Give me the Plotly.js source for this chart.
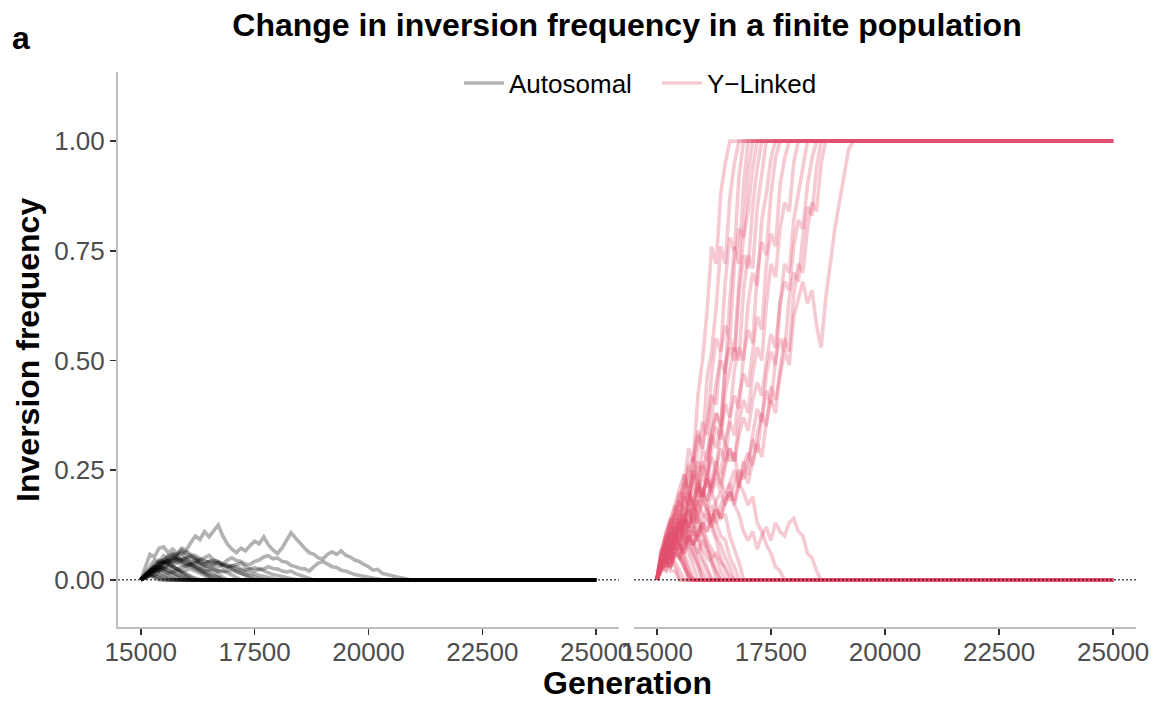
<!DOCTYPE html>
<html>
<head>
<meta charset="utf-8">
<script src="https://cdn.plot.ly/plotly-3.0.1.min.js"></script>
<style>
  html, body { margin: 0; padding: 0; background: #ffffff; }
  #chart { width: 1161px; height: 701px; }
</style>
</head>
<body>
<div id="chart"></div>
<script>
// Simulated inversion frequency, one value per 100 generations from generation 15000.
// Each run stops once the inversion is lost (0) or fixed (1); the absorbed value holds to generation 25000.
const startGen = 15000;
const endGen = 25000;
const genStep = 100;

const xTickVals = [15000, 17500, 20000, 22500, 25000];
const yTickVals = [0, 0.25, 0.5, 0.75, 1];
const yTickText = ["0.00", "0.25", "0.50", "0.75", "1.00"];

// ---- Autosomal runs ----
const autoRun01 = [0,0.03,0.058,0.052,0.072,0.075,0.062,0.07,0.06,0.072,0.068,0.085,0.1,0.092,0.11,0.098,0.112,
  0.125,0.1,0.082,0.07,0.062,0.072,0.066,0.078,0.088,0.082,0.098,0.08,0.068,0.06,0.072,0.09,0.107,0.095,0.082,
  0.072,0.062,0.058,0.05,0.048,0.058,0.064,0.058,0.066,0.056,0.052,0.045,0.042,0.035,0.03,0.022,0.024,0.015,0.012,
  0.01,0.007,0.005,0.003,0];
const autoRun02 = [0,0.015,0.03,0.045,0.04,0.055,0.048,0.056,0.05,0.045,0.048,0.04,0.038,0.046,0.05,0.056,0.045,
  0.042,0.036,0.045,0.05,0.044,0.042,0.036,0.035,0.042,0.045,0.052,0.055,0.048,0.05,0.042,0.04,0.033,0.03,0.026,0.025,
  0.02,0.03,0.038,0.042,0.035,0.03,0.028,0.022,0.02,0.015,0.012,0.01,0.008,0.006,0.004,0.002,0];
const autoRun03 = [0,0.01,0.02,0.018,0.03,0.04,0.036,0.05,0.058,0.062,0.052,0.05,0.045,0.038,0.035,0.042,0.04,0.038,
  0.03,0.028,0.032,0.035,0.038,0.03,0.025,0.02,0.024,0.025,0.03,0.026,0.025,0.02,0.018,0.02,0.014,0.01,0.006,0.003,0];
const autoRun04 = [0,0.008,0.015,0.022,0.02,0.038,0.045,0.042,0.055,0.06,0.065,0.058,0.055,0.048,0.045,0.04,0.035,0.03,
  0.034,0.035,0.028,0.025,0.02,0.018,0.015,0.012,0.01,0.008,0.005,0.003,0];
const autoRun05 = [0,0.01,0.02,0.03,0.028,0.04,0.045,0.05,0.046,0.042,0.038,0.03,0.026,0.02,0.015,0.012,0.008,0.005,0];
const autoRun06 = [0,0.012,0.025,0.035,0.045,0.042,0.055,0.06,0.058,0.068,0.06,0.055,0.048,0.04,0.035,0.03,0.035,0.04,
  0.035,0.03,0.025,0.02,0.015,0.01,0.005,0];
const autoRun07 = [0,0.01,0.018,0.025,0.03,0.028,0.022,0.018,0.012,0.008,0.004,0];
const autoRun08 = [0,0.008,0.012,0.01,0.006,0.003,0];
const autoRun09 = [0,0.01,0.02,0.028,0.035,0.042,0.038,0.032,0.025,0.02,0.022,0.025,0.02,0.015,0.01,0.005,0];
const autoRun10 = [0,0.005,0.01,0.015,0.012,0.008,0.004,0];
const autoRun11 = [0,0.012,0.022,0.03,0.038,0.045,0.052,0.058,0.05,0.045,0.05,0.055,0.05,0.045,0.04,0.042,0.045,0.04,
  0.035,0.03,0.032,0.03,0.025,0.022,0.025,0.028,0.025,0.02,0.015,0.012,0.01,0.008,0.006,0.004,0];
const autoRun12 = [0,0.006,0.012,0.018,0.022,0.02,0.015,0.01,0.005,0];
const autoRun13 = [0,0.01,0.02,0.03,0.04,0.045,0.04,0.035,0.04,0.045,0.04,0.035,0.03,0.025,0.02,0.015,0.01,0.005,0];
const autoRun14 = [0,0.008,0.015,0.02,0.025,0.03,0.035,0.03,0.025,0.028,0.032,0.035,0.03,0.025,0.02,0.022,0.025,0.02,
  0.018,0.02,0.022,0.018,0.015,0.012,0.01,0.008,0.005,0];
const autoRun15 = [0,0.004,0.008,0.005,0];
const autoRun16 = [0,0.01,0.015,0.02,0.025,0.02,0.015,0.018,0.022,0.018,0.012,0.008,0.004,0];
const autoRun17 = [0,0.006,0.014,0.02,0.028,0.024,0.03,0.026,0.02,0.014,0.008,0];
const autoRun18 = [0,0.01,0.02,0.032,0.04,0.036,0.044,0.05,0.046,0.04,0.034,0.036,0.03,0.022,0.015,0.008,0];
const autoRun19 = [0,0.005,0.012,0.01,0.016,0.012,0.008,0.004,0];
const autoRun20 = [0,0.012,0.02,0.026,0.034,0.04,0.038,0.045,0.04,0.034,0.03,0.034,0.038,0.032,0.028,0.022,0.018,
  0.012,0.006,0];
const autoRun21 = [0,0.008,0.016,0.024,0.02,0.028,0.034,0.03,0.024,0.018,0.012,0.006,0];
const autoRun22 = [0,0.006,0.01,0.008,0.004,0];
const autoRun23 = [0,0.01,0.018,0.026,0.032,0.038,0.044,0.04,0.048,0.052,0.046,0.04,0.044,0.038,0.03,0.032,0.026,
  0.02,0.022,0.016,0.01,0.005,0];
const autoRun24 = [0,0.007,0.015,0.022,0.03,0.026,0.02,0.016,0.01,0.005,0];

// ---- Y-linked runs that reach fixation ----
const yFix01 = [0,0.06,0.04,0.11,0.08,0.17,0.22,0.3,0.27,0.42,0.5,0.61,0.76,0.72,0.88,0.95,1];
const yFix02 = [0,0.05,0.03,0.09,0.07,0.14,0.2,0.17,0.27,0.33,0.3,0.46,0.52,0.62,0.76,0.72,0.87,0.95,1];
const yFix03 = [0,0.03,0.07,0.05,0.12,0.1,0.19,0.26,0.22,0.3,0.36,0.33,0.47,0.55,0.52,0.68,0.78,0.75,0.92,1];
const yFix04 = [0,0.04,0.08,0.06,0.1,0.14,0.12,0.2,0.25,0.22,0.3,0.27,0.37,0.45,0.5,0.47,0.64,0.76,0.72,0.9,1];
const yFix05 = [0,0.07,0.05,0.13,0.17,0.14,0.24,0.21,0.28,0.34,0.3,0.36,0.42,0.4,0.52,0.58,0.55,0.72,0.8,0.78,0.93,1];
const yFix06 = [0,0.03,0.06,0.04,0.1,0.14,0.11,0.17,0.22,0.19,0.26,0.23,0.33,0.38,0.35,0.49,0.55,0.52,0.68,0.78,0.84,
  0.94,1];
const yFix07 = [0,0.04,0.02,0.07,0.1,0.08,0.14,0.18,0.15,0.24,0.27,0.24,0.33,0.38,0.35,0.48,0.53,0.5,0.65,0.74,0.71,
  0.85,0.94,1];
const yFix08 = [0,0.03,0.05,0.04,0.09,0.07,0.12,0.16,0.13,0.2,0.24,0.21,0.3,0.35,0.32,0.43,0.48,0.53,0.5,0.66,0.74,
  0.71,0.85,0.93,1];
const yFix09 = [0,0.05,0.03,0.09,0.07,0.13,0.15,0.12,0.18,0.22,0.19,0.24,0.28,0.25,0.34,0.4,0.37,0.48,0.53,0.5,0.63,
  0.7,0.67,0.82,0.88,0.96,1];
const yFix10 = [0,0.03,0.05,0.03,0.07,0.1,0.08,0.12,0.15,0.13,0.19,0.23,0.2,0.26,0.3,0.27,0.37,0.42,0.39,0.51,0.57,
  0.54,0.7,0.77,0.74,0.88,0.96,1];
const yFix11 = [0,0.04,0.06,0.05,0.1,0.08,0.13,0.16,0.13,0.18,0.21,0.18,0.23,0.27,0.24,0.32,0.36,0.33,0.42,0.47,0.44,
  0.52,0.6,0.57,0.72,0.79,0.76,0.9,0.96,1];
const yFix12 = [0,0.03,0.02,0.06,0.08,0.06,0.1,0.12,0.1,0.15,0.18,0.16,0.2,0.23,0.2,0.26,0.3,0.27,0.36,0.41,0.38,
  0.47,0.53,0.5,0.63,0.72,0.69,0.8,0.86,0.84,0.95,1];
const yFix13 = [0,0.03,0.05,0.03,0.06,0.08,0.06,0.09,0.11,0.09,0.12,0.14,0.12,0.16,0.14,0.18,0.2,0.17,0.22,0.27,0.24,
  0.33,0.39,0.36,0.47,0.52,0.49,0.63,0.72,0.7,0.82,0.88,0.95,1];
const yFix14 = [0,0.04,0.06,0.05,0.09,0.11,0.09,0.14,0.12,0.17,0.2,0.18,0.22,0.25,0.22,0.27,0.3,0.27,0.33,0.37,0.34,
  0.41,0.45,0.42,0.5,0.56,0.53,0.63,0.68,0.66,0.76,0.82,0.8,0.9,0.96,1];
const yFix15 = [0,0.02,0.04,0.03,0.06,0.05,0.08,0.1,0.08,0.11,0.13,0.11,0.15,0.13,0.17,0.2,0.18,0.22,0.25,0.23,0.28,
  0.32,0.29,0.37,0.43,0.4,0.5,0.55,0.52,0.64,0.7,0.68,0.78,0.85,0.83,0.94,1];
const yFix16 = [0,0.02,0.04,0.03,0.06,0.05,0.08,0.1,0.08,0.11,0.13,0.11,0.14,0.16,0.14,0.18,0.2,0.18,0.22,0.25,0.22,
  0.27,0.31,0.28,0.36,0.41,0.38,0.48,0.55,0.52,0.65,0.72,0.7,0.8,0.86,0.84,0.95,1];
const yFix17 = [0,0.03,0.05,0.03,0.06,0.08,0.06,0.1,0.12,0.1,0.14,0.16,0.13,0.18,0.2,0.17,0.22,0.25,0.21,0.26,0.29,
  0.26,0.33,0.38,0.35,0.44,0.41,0.47,0.52,0.49,0.6,0.64,0.68,0.63,0.66,0.58,0.53,0.64,0.72,0.8,0.86,0.92,0.98,1];

// ---- Y-linked runs that are lost ----
const yLost01 = [0,0.04,0.03,0.08,0.11,0.09,0.14,0.12,0.18,0.21,0.19,0.23,0.21,0.25,0.22,0.2,0.22,0.17,0.15,0.11,0.09,
  0.11,0.07,0.1,0.12,0.09,0.13,0.11,0.1,0.13,0.14,0.11,0.1,0.06,0.05,0.02,0];
const yLost02 = [0,0.05,0.04,0.1,0.13,0.11,0.19,0.17,0.23,0.27,0.24,0.29,0.33,0.3,0.35,0.31,0.27,0.29,0.22,0.2,0.17,
  0.19,0.13,0.11,0.08,0.06,0.03,0.02,0];
const yLost03 = [0,0.04,0.07,0.06,0.12,0.15,0.13,0.2,0.17,0.22,0.19,0.24,0.2,0.17,0.14,0.15,0.1,0.07,0.04,0];
const yLost04 = [0,0.06,0.1,0.09,0.16,0.2,0.18,0.26,0.28,0.23,0.2,0.17,0.12,0.09,0.05,0.02,0];
const yLost05 = [0,0.05,0.09,0.08,0.14,0.18,0.15,0.16,0.11,0.09,0.05,0.03,0];
const yLost06 = [0,0.04,0.06,0.09,0.07,0.05,0.03,0.01,0];
const yLost07 = [0,0.05,0.09,0.1,0.14,0.11,0.14,0.17,0.13,0.1,0.12,0.09,0.07,0.05,0.02,0];
const yLost08 = [0,0.03,0.04,0.02,0.02,0];
const yLost09 = [0,0.05,0.07,0.11,0.09,0.13,0.1,0.08,0.06,0.04,0.02,0];
const yLost10 = [0,0.03,0.06,0.07,0.1,0.12,0.14,0.12,0.16,0.18,0.15,0.14,0.17,0.13,0.1,0.09,0.05,0.03,0];
const yLost11 = [0,0.07,0.1,0.14,0.17,0.21,0.24,0.2,0.17,0.15,0.11,0.08,0.05,0.02,0];
const yLost12 = [0,0.03,0.05,0.04,0.07,0.05,0.03,0.01,0];
const yLost13 = [0,0.04,0.06,0.09,0.11,0.09,0.12,0.1,0.08,0.1,0.07,0.05,0.04,0.02,0];
const yLost14 = [0,0.05,0.07,0.06,0.04,0.02,0];
const yLost15 = [0,0.03,0.06,0.08,0.11,0.08,0.07,0.1,0.08,0.06,0.09,0.07,0.05,0.06,0.04,0.03,0.01,0];
const yLost16 = [0,0.06,0.09,0.13,0.15,0.19,0.22,0.2,0.24,0.21,0.18,0.16,0.13,0.1,0.08,0.05,0.03,0];
const yLost17 = [0,0.04,0.08,0.12,0.1,0.07,0.04,0];
const yLost18 = [0,0.05,0.1,0.13,0.15,0.12,0.09,0.06,0.03,0];
const yLost19 = [0,0.03,0.06,0.05,0.08,0.06,0.03,0];
const yLost20 = [0,0.06,0.11,0.14,0.12,0.16,0.13,0.1,0.07,0.04,0];
const yLost21 = [0,0.05,0.08,0.06,0.1,0.08,0.05,0.02,0];
const yLost22 = [0,0.04,0.09,0.12,0.1,0.13,0.11,0.08,0.05,0.03,0];
const yLost23 = [0,0.06,0.1,0.13,0.11,0.08,0.06,0.03,0];
const yLost24 = [0,0.03,0.07,0.1,0.12,0.1,0.14,0.12,0.09,0.06,0.04,0.02,0];
const yLost25 = [0,0.05,0.07,0.05,0.03,0];
const yLost26 = [0,0.04,0.08,0.11,0.15,0.18,0.16,0.2,0.17,0.13,0.1,0.07,0.04,0];

const autosomalRuns = [autoRun01, autoRun02, autoRun03, autoRun04, autoRun05, autoRun06, autoRun07, autoRun08,
  autoRun09, autoRun10, autoRun11, autoRun12, autoRun13, autoRun14, autoRun15, autoRun16, autoRun17, autoRun18,
  autoRun19, autoRun20, autoRun21, autoRun22, autoRun23, autoRun24];
const yLinkedRuns = [yFix01, yFix02, yFix03, yFix04, yFix05, yFix06, yFix07, yFix08, yFix09, yFix10, yFix11, yFix12,
  yFix13, yFix14, yFix15, yFix16, yFix17, yLost01, yLost02, yLost03, yLost04, yLost05, yLost06, yLost07, yLost08,
  yLost09, yLost10, yLost11, yLost12, yLost13, yLost14, yLost15, yLost16, yLost17, yLost18, yLost19, yLost20,
  yLost21, yLost22, yLost23, yLost24, yLost25, yLost26];

const AUTO_COLOR = "rgba(0,0,0,0.3)";
const YLINK_COLOR = "rgba(224,79,110,0.3)";
const LINE_W = 3.6;
const FONT = "Liberation Sans, Arial, Helvetica, sans-serif";

function runTrace(freqs, xa, ya, color, name, show) {
  const gens = freqs.map((_, i) => startGen + i * genStep);
  const vals = freqs.slice();
  // absorbed state carried through to the end of the run
  gens.push(endGen);
  vals.push(freqs[freqs.length - 1]);
  return {
    type: "scatter", mode: "lines", x: gens, y: vals, xaxis: xa, yaxis: ya,
    line: { color: color, width: LINE_W }, name: name, legendgroup: name,
    showlegend: show, hoverinfo: "skip"
  };
}

const traces = [];
autosomalRuns.forEach((r, i) => traces.push(runTrace(r, "x", "y", AUTO_COLOR, "Autosomal", i === 0)));
yLinkedRuns.forEach((r, i) => traces.push(runTrace(r, "x2", "y2", YLINK_COLOR, "Y\u2212Linked", i === 0)));

const xRange = [14500, 25500];
const yRange = [-0.1075, 1.1575];

const xAxisBase = {
  range: xRange, tickvals: xTickVals, tickformat: "d",
  showgrid: false, zeroline: false,
  showline: true, linecolor: "#bebebe", linewidth: 2,
  ticks: "outside", ticklen: 6, tickwidth: 1.5, tickcolor: "#333333",
  ticklabelstandoff: -5,
  tickfont: { family: FONT, size: 26, color: "#4d4d4d" }
};

const layout = {
  width: 1161, height: 701,
  paper_bgcolor: "#ffffff", plot_bgcolor: "#ffffff",
  margin: { l: 118, r: 25, t: 72, b: 74, pad: 0 },
  font: { family: FONT, color: "#000000" },
  title: {
    text: "<b>Change in inversion frequency in a finite population</b>",
    font: { family: FONT, size: 32, color: "#000000" },
    x: 0.5, xref: "paper", xanchor: "center",
    y: 1 - 25 / 701, yref: "container", yanchor: "middle"
  },
  showlegend: true,
  legend: {
    orientation: "h", x: 0.335, xanchor: "left", y: 0.98, yanchor: "middle",
    itemwidth: 40, entrywidth: 143, entrywidthmode: "pixels",
    font: { family: FONT, size: 26, color: "#000000" },
    bgcolor: "rgba(0,0,0,0)", traceorder: "normal"
  },
  xaxis: Object.assign({}, xAxisBase, { domain: [0, 0.4921], anchor: "y" }),
  xaxis2: Object.assign({}, xAxisBase, { domain: [0.5069, 1], anchor: "y2" }),
  yaxis: {
    range: yRange, tickvals: yTickVals, ticktext: yTickText,
    showgrid: false, zeroline: false,
    showline: true, linecolor: "#bebebe", linewidth: 2,
    ticks: "outside", ticklen: 6, tickwidth: 1.5, tickcolor: "#333333",
    tickfont: { family: FONT, size: 26, color: "#4d4d4d" },
    anchor: "x"
  },
  yaxis2: {
    range: yRange, showgrid: false, zeroline: false, showline: false,
    showticklabels: false, ticks: "", anchor: "x2"
  },
  shapes: [
    { type: "line", xref: "x domain", yref: "y", x0: 0, x1: 1, y0: 0, y1: 0,
      line: { color: "#000000", width: 1, dash: "2px,2px" }, layer: "above" },
    { type: "line", xref: "x2 domain", yref: "y2", x0: 0, x1: 1, y0: 0, y1: 0,
      line: { color: "#000000", width: 1, dash: "2px,2px" }, layer: "above" }
  ],
  annotations: [
    { text: "<b>a</b>", xref: "paper", yref: "paper", x: -0.106, y: 1.062, xanchor: "left", yanchor: "middle",
      showarrow: false, font: { family: FONT, size: 32, color: "#000000" } },
    { text: "<b>Inversion frequency</b>", xref: "paper", yref: "paper", x: -0.089, y: 0.5, textangle: -90,
      xanchor: "center", yanchor: "middle", showarrow: false,
      font: { family: FONT, size: 32, color: "#000000" } },
    { text: "<b>Generation</b>", xref: "paper", yref: "paper", x: 0.5, y: -0.101,
      xanchor: "center", yanchor: "middle", showarrow: false,
      font: { family: FONT, size: 32, color: "#000000" } }
  ]
};

Plotly.newPlot("chart", traces, layout, { displayModeBar: false, staticPlot: true });
</script>
</body>
</html>
